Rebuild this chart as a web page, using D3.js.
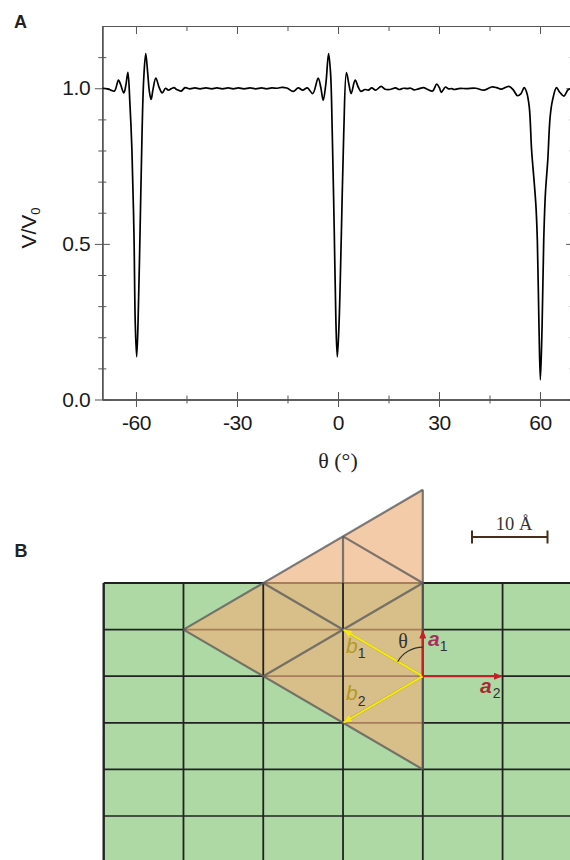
<!DOCTYPE html>
<html lang="en">
<head>
    <meta charset="UTF-8">
    <title>V/V0 against theta, and the lattice overlay</title>
    <script src="https://d3js.org/d3.v7.min.js"></script>
    <style>
        html, body { margin: 0; padding: 0; background: #fff; overflow: hidden; }
        svg { display: block; }
        text { font-family: "Liberation Sans", Arial, sans-serif; }
        .serif { font-family: "Liberation Serif", "Times New Roman", serif; }
    </style>
</head>
<body>
    <svg id="fig" width="570" height="860"></svg>
    <script>
        // panel A (each line of theta goes with the same line of ratio)
        const theta = [
            -69.9, -68.5, -67.5, -66.4, -65.2, -64.6, -63.6, -63.0, -62.4, -61.8, -61.2, -60.6, -60.2, -59.8, -59.4,
            -58.8, -58.2, -57.7, -57.1, -56.5, -56.0, -55.5, -54.9, -54.1, -53.1, -52.2, -51.2, -50.4, -49.6, -48.7,
            -47.9, -46.6, -45.4, -44.0, -42.5, -41.0, -39.2, -37.5, -36.0, -34.3, -32.6, -31.1, -29.6, -27.9, -26.1,
            -24.4, -22.7, -21.2, -19.7, -18.0, -16.7, -15.2, -13.3, -11.8, -10.5, -9.1, -7.5, -5.9, -5.1, -4.4,
            -3.6, -2.8, -2.2, -1.7, -1.1, -0.6, -0.2, 0.3, 1.0, 1.7, 2.5, 3.2, 3.9, 5.1, 6.0,
            6.8, 8.0, 9.0, 10.0, 11.2, 12.8, 14.0, 15.4, 17.1, 18.2, 19.4, 20.6, 21.6, 22.6, 23.9,
            25.4, 26.5, 28.1, 29.3, 30.1, 30.7, 31.9, 32.8, 33.8, 34.5, 35.8, 38.2, 40.9, 43.4, 45.6,
            47.1, 48.4, 50.8, 52.1, 53.3, 54.3, 55.3, 56.0, 56.8, 57.5, 58.3, 58.8, 59.2, 59.7, 60.1,
            60.6, 61.1, 61.6, 62.3, 63.0, 63.7, 64.9, 65.8, 67.1, 68.4, 69.9
        ];
        const ratio = [
            1.000, 0.998, 0.994, 0.991, 1.026, 1.013, 0.985, 1.010, 1.051, 0.951, 0.801, 0.533, 0.240, 0.137, 0.240,
            0.533, 0.854, 1.030, 1.111, 1.047, 0.988, 0.964, 0.999, 1.033, 1.002, 0.985, 1.000, 0.994, 0.998, 1.002,
            0.996, 0.991, 1.002, 0.998, 1.001, 0.998, 1.001, 0.998, 1.001, 0.998, 1.001, 0.998, 1.001, 0.998, 1.001,
            0.998, 1.001, 0.998, 1.001, 1.000, 1.003, 1.001, 0.990, 1.001, 0.994, 1.001, 0.983, 1.033, 1.002, 0.961,
            1.015, 1.111, 1.047, 0.854, 0.533, 0.240, 0.137, 0.240, 0.533, 0.854, 1.050, 1.015, 0.983, 1.026, 1.004,
            0.990, 0.996, 0.994, 1.001, 0.994, 1.006, 0.997, 0.996, 1.001, 0.996, 1.000, 0.999, 1.000, 0.995, 0.998,
            1.002, 0.997, 0.991, 1.013, 1.002, 0.987, 1.004, 0.998, 0.999, 0.996, 0.999, 0.999, 1.000, 0.994, 1.004,
            1.002, 0.997, 1.006, 0.994, 0.976, 0.982, 1.002, 0.988, 0.940, 0.801, 0.694, 0.619, 0.512, 0.230, 0.063,
            0.230, 0.512, 0.662, 0.769, 0.908, 0.961, 1.002, 0.988, 0.975, 0.996, 1.000
        ];
        const xMajor = [-60, -30, 0, 30, 60];
        const xMinor = [-45, -15, 15, 45];
        const yMajor = [0, 0.5, 1];
        const yMinor = [0.1, 0.2, 0.3, 0.4, 0.6, 0.7, 0.8, 0.9, 1.1];

        // panel B, in lattice cells: columns across, rows down
        const gridCols = [0, 1, 2, 3, 4, 5, 6];
        const gridRows = [0, 1, 2, 3, 4, 5, 6];
        const overlayCorners = [[4, -2], [1, 1], [4, 4]];
        const overlayEdges = [
            [[4, -2], [1, 1]], [[1, 1], [4, 4]], [[4, -2], [4, 4]],
            [[3, -1], [4, 0]], [[2, 0], [4, 2]], [[4, 0], [2, 2]], [[4, 2], [3, 3]],
            [[3, -1], [3, 0]]
        ];
        const arrowsA = [
            { name: "a1", to: [4, 1.02] },
            { name: "a2", to: [4.99, 2] }
        ];
        const arrowsB = [
            { name: "b1", to: [3.01, 1.01] },
            { name: "b2", to: [3.01, 2.99] }
        ];
        const origin = [4, 2];

        const svg = d3.select("#fig");

        // ---- panel A
        const x = d3.scaleLinear().domain([-70, 70]).range([102.3, 573.7]);
        const y = d3.scaleLinear().domain([0, 1.2]).range([399.5, 26]);
        const axisCol = "#555";

        function styleAxis(g) {
            g.selectAll("path, line").attr("stroke", axisCol).attr("stroke-width", 1);
            g.selectAll("text").attr("fill", "#1a1a1a").attr("font-size", 21)
                .attr("letter-spacing", -0.4)
                .attr("font-family", "Liberation Sans");
        }

        // ticks stick out both ways, so each side is a pair of axes
        function ticks(axisFn, scale, at, pos, size, labels) {
            const a = axisFn(scale).tickValues(at).tickSize(size).tickSizeOuter(0);
            if (labels) a.tickFormat(labels); else a.tickFormat("");
            return svg.append("g").attr("transform", pos).call(a).call(styleAxis);
        }

        const bottomPos = "translate(0," + y(0) + ")";
        const topPos = "translate(0," + y(1.2) + ")";
        const leftPos = "translate(" + x(-70) + ",0)";
        const rightPos = "translate(" + x(70) + ",0)";

        const bottomAxis = ticks(d3.axisBottom, x, xMajor, bottomPos, 7.5, d => String(d));
        bottomAxis.selectAll("text").attr("y", 15.5).attr("dy", "0.71em");
        ticks(d3.axisTop, x, xMajor, bottomPos, 7.5);
        ticks(d3.axisBottom, x, xMinor, bottomPos, 4);
        ticks(d3.axisTop, x, xMinor, bottomPos, 4);
        ticks(d3.axisBottom, x, xMajor, topPos, 8);
        ticks(d3.axisBottom, x, xMinor, topPos, 5);

        const leftAxis = ticks(d3.axisLeft, y, yMajor, leftPos, 7.5, d3.format(".1f"));
        leftAxis.selectAll("text").attr("x", -12);
        ticks(d3.axisRight, y, yMajor, leftPos, 7.5);
        ticks(d3.axisLeft, y, yMinor, leftPos, 4);
        ticks(d3.axisRight, y, yMinor, leftPos, 4);
        ticks(d3.axisLeft, y, yMajor, rightPos, 7.5);
        ticks(d3.axisLeft, y, yMinor, rightPos, 4);

        const line = d3.line()
            .x(d => x(d[0]))
            .y(d => y(d[1]))
            .curve(d3.curveCatmullRom.alpha(0.5));

        svg.append("path")
            .datum(d3.zip(theta, ratio))
            .attr("d", line)
            .attr("fill", "none")
            .attr("stroke", "#000")
            .attr("stroke-width", 1.7);

        svg.append("text").attr("x", 14).attr("y", 28).attr("font-size", 18)
            .attr("font-weight", "bold").attr("fill", "#222").text("A");
        svg.append("text").attr("x", 14.5).attr("y", 557).attr("font-size", 18)
            .attr("font-weight", "bold").attr("fill", "#222").text("B");

        const yLab = svg.append("text")
            .attr("transform", "translate(36,228) rotate(-90)")
            .attr("text-anchor", "middle")
            .attr("font-size", 21)
            .attr("fill", "#1a1a1a");
        yLab.append("tspan").text("V/V");
        yLab.append("tspan").attr("font-size", 13).attr("dy", 4).text("0");

        svg.append("text")
            .attr("class", "serif")
            .attr("x", 338).attr("y", 468)
            .attr("text-anchor", "middle")
            .attr("font-size", 22)
            .attr("fill", "#222")
            .text("θ (°)");

        // ---- panel B
        const cx = d3.scaleLinear().domain([0, 4]).range([103.7, 422.8]);
        const cy = d3.scaleLinear().domain([0, 4]).range([583, 769.4]);
        const bottomRow = d3.max(gridRows);
        const lastCol = d3.max(gridCols);
        const gridCol = "#222";

        svg.append("rect")
            .attr("x", cx(0)).attr("y", cy(0))
            .attr("width", cx(lastCol) - cx(0))
            .attr("height", cy(bottomRow) - cy(0))
            .attr("fill", "#aed9a5");

        svg.append("g").selectAll("line").data(gridRows).join("line")
            .attr("x1", cx(0)).attr("x2", cx(lastCol))
            .attr("y1", d => cy(d)).attr("y2", d => cy(d))
            .attr("stroke", gridCol)
            .attr("stroke-width", d => d === 0 ? 2 : 1.7);

        svg.append("polygon")
            .attr("points", overlayCorners.map(d => [cx(d[0]), cy(d[1])].join(",")).join(" "))
            .attr("fill", "rgb(238,176,122)")
            .attr("fill-opacity", 0.654);

        svg.append("g").selectAll("line").data(gridCols).join("line")
            .attr("x1", d => cx(d)).attr("x2", d => cx(d))
            .attr("y1", cy(0)).attr("y2", cy(bottomRow))
            .attr("stroke", gridCol)
            .attr("stroke-width", d => d === 0 ? 2.4 : 1.8);

        svg.append("g").selectAll("line").data(overlayEdges).join("line")
            .attr("x1", d => cx(d[0][0])).attr("y1", d => cy(d[0][1]))
            .attr("x2", d => cx(d[1][0])).attr("y2", d => cy(d[1][1]))
            .attr("stroke", "#5c5c5c")
            .attr("stroke-opacity", 0.8)
            .attr("stroke-width", 2.2);

        const defs = svg.append("defs");
        [["headRed", "#c4202c"], ["headYellow", "#f6e812"]].forEach(h => {
            defs.append("marker")
                .attr("id", h[0])
                .attr("viewBox", "0 0 10 8")
                .attr("refX", 9).attr("refY", 4)
                .attr("markerWidth", 9).attr("markerHeight", 7)
                .attr("markerUnits", "userSpaceOnUse")
                .attr("orient", "auto")
                .append("path")
                .attr("d", "M0,0L10,4L0,8Z")
                .attr("fill", h[1]);
        });

        function drawArrows(list, colour, head) {
            svg.append("g").selectAll("line").data(list).join("line")
                .attr("x1", cx(origin[0])).attr("y1", cy(origin[1]))
                .attr("x2", d => cx(d.to[0])).attr("y2", d => cy(d.to[1]))
                .attr("stroke", colour)
                .attr("stroke-width", 2.2)
                .attr("marker-end", "url(#" + head + ")");
        }
        drawArrows(arrowsB, "#f6e812", "headYellow");
        drawArrows(arrowsA, "#c4202c", "headRed");

        // theta arc between a1 and b1
        svg.append("path")
            .attr("transform", "translate(" + cx(origin[0]) + "," + cy(origin[1]) + ")")
            .attr("d", d3.arc()({ innerRadius: 29, outerRadius: 29, startAngle: 0, endAngle: -Math.PI / 3 }))
            .attr("fill", "none")
            .attr("stroke", "#333")
            .attr("stroke-width", 1.2);

        svg.append("text").attr("class", "serif")
            .attr("x", 403).attr("y", 648)
            .attr("text-anchor", "middle")
            .attr("font-size", 20).attr("fill", "#333").text("θ");

        function vecLabel(px, py, name, sub, colour, weight, subDx, subDy) {
            const t = svg.append("text").attr("x", px).attr("y", py).attr("font-size", 21);
            t.append("tspan").attr("font-style", "italic").attr("font-weight", weight)
                .attr("fill", colour).text(name);
            t.append("tspan").attr("font-size", 14).attr("dy", subDy).attr("dx", subDx)
                .attr("fill", "#333").text(sub);
        }
        vecLabel(428, 646, "a", "1", "#a8305c", "bold", 0, 5);
        vecLabel(480, 693, "a", "2", "#a82a30", "bold", 1, 5);
        vecLabel(346, 653, "b", "1", "#b49a1c", "normal", 0, 5);
        vecLabel(346, 700, "b", "2", "#b49a1c", "normal", 0, 6);

        // scale bar
        const barCol = "#4a2c1a";
        svg.append("path")
            .attr("d", "M472,530.5V543.5M472,537H547.5M547.5,530.5V543.5")
            .attr("fill", "none").attr("stroke", barCol).attr("stroke-width", 2);
        svg.append("text").attr("class", "serif")
            .attr("x", 514).attr("y", 530)
            .attr("text-anchor", "middle")
            .attr("font-size", 18.5).attr("fill", "#333").text("10 Å");
    </script>
</body>
</html>
